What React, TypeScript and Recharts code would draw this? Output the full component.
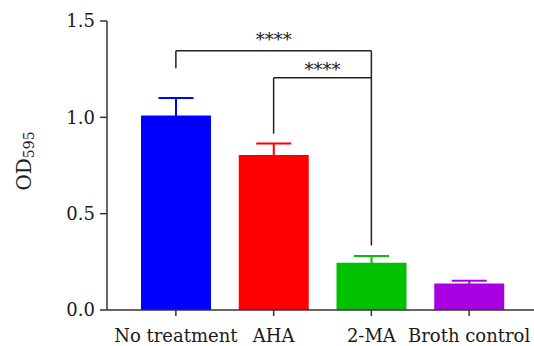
import React from 'react';
import { BarChart, Bar, XAxis, YAxis, Cell, ErrorBar, ReferenceLine } from 'recharts';

const categories = ['No treatment', 'AHA', '2-MA', 'Broth control'];
const values = [1.01, 0.804, 0.245, 0.138];
const errors = [0.09, 0.06, 0.035, 0.014];
const colors = ['#0000ff', '#ff0000', '#00c000', '#a800e0'];
const yTicks = [0, 0.5, 1.0, 1.5];

const data = categories.map((name, i) => {
  const row: Record<string, any> = { name, value: values[i] };
  row['e' + i] = errors[i];
  return row;
});

const FONT = '"DejaVu Serif", serif';
const AXIS = '#333333';
const TEXT = '#1a1a1a';

const YLabel = () => {
  const cx = 24;
  const cy = 161;
  return (
    <text
      x={cx}
      y={cy}
      transform={`rotate(-90, ${cx}, ${cy})`}
      textAnchor="middle"
      dominantBaseline="central"
      fontFamily={FONT}
      fontSize={20}
      fill={TEXT}
    >
      OD
      <tspan fontSize={14} dy={5}>595</tspan>
    </text>
  );
};

export default function App() {
  return (
    <div style={{ position: 'absolute', left: 0, top: 0 }}>
      <BarChart
        width={534}
        height={346}
        data={data}
        margin={{ top: 21, right: 0, bottom: 0, left: 0 }}
      >
        <XAxis
          dataKey="name"
          padding={{ left: 20, right: 16 }}
          height={36}
          tickSize={6}
          tickMargin={13}
          stroke={AXIS}
          strokeWidth={1.5}
          tick={{ fontFamily: FONT, fontSize: 18, fill: TEXT }}
          interval={0}
        />
        <YAxis
          width={107}
          domain={[0, 1.5]}
          ticks={yTicks}
          tickFormatter={(v: number) => v.toFixed(1)}
          tickSize={7}
          tickMargin={5}
          stroke={AXIS}
          strokeWidth={1.5}
          tick={{ fontFamily: FONT, fontSize: 18, fill: TEXT }}
          label={<YLabel />}
        />
        <Bar dataKey="value" barSize={70} isAnimationActive={false}>
          {categories.map((c, i) => (
            <Cell key={c} fill={colors[i]} />
          ))}
          {categories.map((c, i) => (
            <ErrorBar
              key={'eb' + c}
              dataKey={'e' + i}
              direction="y"
              width={17.5}
              strokeWidth={2}
              stroke={colors[i]}
            />
          ))}
        </Bar>
        <ReferenceLine
          segment={[{ x: categories[0], y: 1.255 }, { x: categories[0], y: 1.345 }]}
          stroke="#222"
          strokeWidth={1.5}
        />
        <ReferenceLine
          segment={[{ x: categories[0], y: 1.345 }, { x: categories[2], y: 1.345 }]}
          stroke="#222"
          strokeWidth={1.5}
          label={{ value: '****', position: 'top', offset: 5, fontFamily: FONT, fontSize: 18, fill: TEXT }}
        />
        <ReferenceLine
          segment={[{ x: categories[2], y: 1.345 }, { x: categories[2], y: 0.335 }]}
          stroke="#222"
          strokeWidth={1.5}
        />
        <ReferenceLine
          segment={[{ x: categories[1], y: 1.205 }, { x: categories[2], y: 1.205 }]}
          stroke="#222"
          strokeWidth={1.5}
          label={{ value: '****', position: 'top', offset: 2, fontFamily: FONT, fontSize: 18, fill: TEXT }}
        />
        <ReferenceLine
          segment={[{ x: categories[1], y: 1.205 }, { x: categories[1], y: 0.915 }]}
          stroke="#222"
          strokeWidth={1.5}
        />
      </BarChart>
    </div>
  );
}
